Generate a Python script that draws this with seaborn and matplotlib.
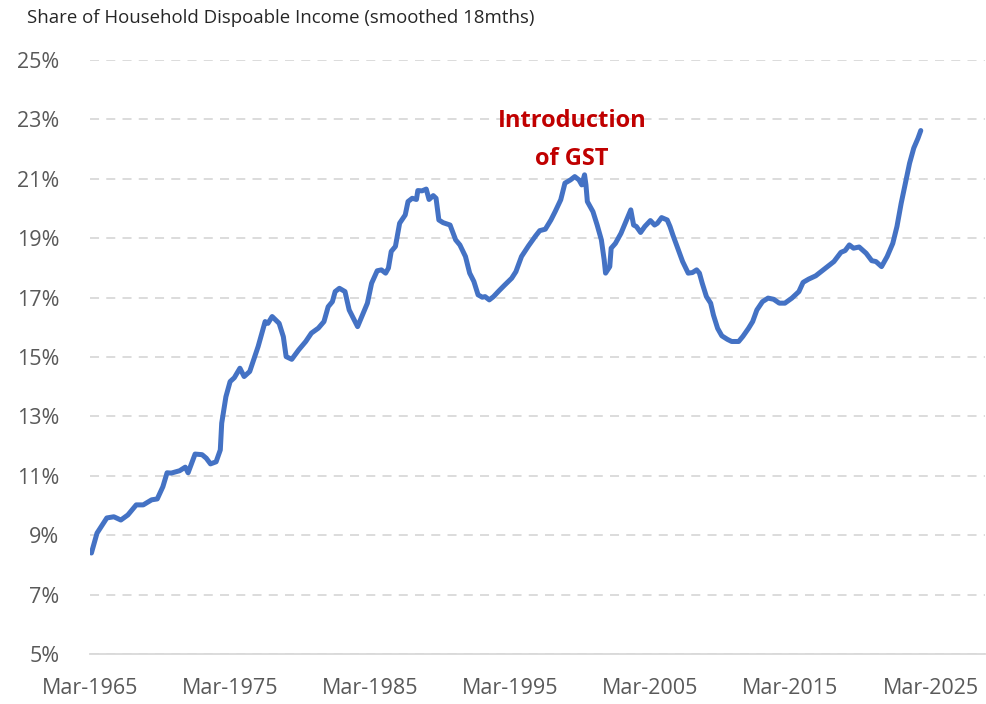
import matplotlib
matplotlib.use("Agg")
import matplotlib.pyplot as plt
import matplotlib.ticker as mticker
import seaborn as sns
import pandas as pd

# %%
# data (x = years after Mar-1965 counted in calendar years)
years = [1965.1, 1965.5, 1966.2, 1966.7, 1967.2, 1967.7, 1968.3, 1968.8, 1969.4, 1969.8,
         1970.2, 1970.5, 1970.8, 1971.4, 1971.8, 1972.0, 1972.5, 1973.0, 1973.3, 1973.6,
         1974.0, 1974.3, 1974.4, 1974.7, 1975.0, 1975.3, 1975.7, 1976.0, 1976.4, 1977.0,
         1977.5, 1977.7, 1978.0, 1978.5, 1978.8, 1979.0, 1979.4, 1979.9, 1980.4, 1980.8,
         1981.3, 1981.7, 1982.0, 1982.3, 1982.5, 1982.8, 1983.2, 1983.5, 1983.8, 1984.1,
         1984.4, 1984.8, 1985.1, 1985.5, 1985.8, 1986.1, 1986.3, 1986.5, 1986.8, 1987.1,
         1987.5, 1987.7, 1988.0, 1988.3, 1988.4, 1988.7, 1989.0, 1989.2, 1989.5, 1989.7,
         1989.9, 1990.2, 1990.7, 1991.1, 1991.4, 1991.8, 1992.1, 1992.4, 1992.7, 1993.0,
         1993.2, 1993.5, 1993.8, 1994.2, 1994.6, 1995.1, 1995.4, 1995.8, 1996.3, 1996.8,
         1997.1, 1997.5, 1997.9, 1998.2, 1998.6, 1998.9, 1999.3, 1999.6, 1999.9, 2000.1,
         2000.3, 2000.4, 2000.5, 2000.9, 2001.2, 2001.5, 2001.7, 2001.8, 2002.1, 2002.2,
         2002.5, 2002.9, 2003.2, 2003.6, 2003.8, 2004.0, 2004.3, 2004.6, 2005.0, 2005.3,
         2005.5, 2005.8, 2006.2, 2006.4, 2006.6, 2006.9, 2007.3, 2007.7, 2008.0, 2008.3,
         2008.5, 2008.7, 2009.0, 2009.3, 2009.5, 2009.8, 2010.1, 2010.5, 2010.8, 2011.3,
         2011.6, 2012.0, 2012.3, 2012.6, 2013.0, 2013.4, 2013.8, 2014.2, 2014.6, 2015.1,
         2015.6, 2015.9, 2016.3, 2016.8, 2017.1, 2017.6, 2018.1, 2018.6, 2018.9, 2019.2,
         2019.5, 2019.9, 2020.4, 2020.8, 2021.1, 2021.5, 2021.9, 2022.3, 2022.6, 2022.9,
         2023.2, 2023.5, 2023.8, 2024.1, 2024.3]
share = [8.40, 9.07, 9.58, 9.62, 9.51, 9.68, 10.02, 10.02, 10.19, 10.22,
         10.63, 11.10, 11.09, 11.17, 11.29, 11.10, 11.73, 11.71, 11.59, 11.40,
         11.47, 11.87, 12.77, 13.66, 14.17, 14.30, 14.62, 14.34, 14.51, 15.35,
         16.19, 16.13, 16.36, 16.13, 15.68, 15.01, 14.92, 15.24, 15.52, 15.80,
         15.97, 16.19, 16.69, 16.86, 17.20, 17.31, 17.20, 16.58, 16.30, 16.02,
         16.36, 16.81, 17.48, 17.90, 17.93, 17.82, 17.99, 18.55, 18.72, 19.50,
         19.78, 20.23, 20.34, 20.30, 20.60, 20.59, 20.65, 20.30, 20.43, 20.34,
         19.61, 19.52, 19.44, 18.94, 18.77, 18.38, 17.82, 17.54, 17.09, 17.01,
         17.03, 16.92, 17.03, 17.23, 17.42, 17.65, 17.87, 18.38, 18.74, 19.07,
         19.25, 19.30, 19.61, 19.89, 20.29, 20.85, 20.96, 21.07, 20.96, 20.79,
         21.13, 20.79, 20.23, 19.89, 19.44, 18.94, 18.27, 17.82, 18.04, 18.66,
         18.82, 19.16, 19.50, 19.95, 19.44, 19.39, 19.19, 19.39, 19.59, 19.44,
         19.50, 19.69, 19.61, 19.39, 19.11, 18.72, 18.21, 17.82, 17.84, 17.93,
         17.82, 17.48, 17.03, 16.81, 16.41, 15.96, 15.71, 15.59, 15.52, 15.52,
         15.69, 15.96, 16.19, 16.58, 16.86, 16.98, 16.94, 16.81, 16.81, 16.98,
         17.20, 17.51, 17.62, 17.73, 17.84, 18.02, 18.21, 18.52, 18.58, 18.77,
         18.66, 18.70, 18.49, 18.24, 18.21, 18.04, 18.38, 18.82, 19.39, 20.17,
         20.85, 21.52, 22.03, 22.36, 22.62]

tick_years = [1965, 1975, 1985, 1995, 2005, 2015, 2025]
tick_labels = [f"Mar-{y}" for y in tick_years]
y_ticks = [5, 7, 9, 11, 13, 15, 17, 19, 21, 23, 25]

df = pd.DataFrame({"year": years, "share": share})

# %%
sns.set_style("white")
plt.rcParams["font.family"] = ["Open Sans", "DejaVu Sans"]

fig = plt.figure(figsize=(9.87, 7.04), dpi=100)
ax = fig.add_axes([0.0912, 0.071, 0.907, 0.844])

sns.lineplot(data=df, x="year", y="share", color="#4472C4", linewidth=3.6, ax=ax)

ax.set_xlim(1965, 2028.9)
ax.set_ylim(5, 25)
ax.set_yticks(y_ticks)
ax.yaxis.set_major_formatter(mticker.FuncFormatter(lambda v, p: f"{v:.0f}%"))
ax.set_xticks(tick_years)
ax.set_xticklabels(tick_labels)

ax.grid(axis="y", color="#D9D9D9", linestyle=(0, (5, 4)), linewidth=1.3)
ax.set_axisbelow(True)
for s in ["top", "right", "left"]:
    ax.spines[s].set_visible(False)
ax.spines["bottom"].set_color("#D9D9D9")
ax.spines["bottom"].set_linewidth(1.3)

ax.tick_params(axis="x", direction="out", length=9, width=1.3, color="#D9D9D9",
               labelsize=15.5, labelcolor="#595959", pad=8)
ax.tick_params(axis="y", length=0, labelsize=15.5, labelcolor="#595959", pad=22)
ax.set_xlabel("")
ax.set_ylabel("")

# annotation
ax.text(1999.4, 22.3, "Introduction\nof GST", color="#C00000", fontsize=17,
        fontweight="bold", ha="center", va="center", linespacing=1.75)

fig.text(0.027, 0.974, "Share of Household Dispoable Income (smoothed 18mths)",
         fontsize=13.4, color="#262626", ha="left", va="center")

fig.savefig("out.png", dpi=100)
